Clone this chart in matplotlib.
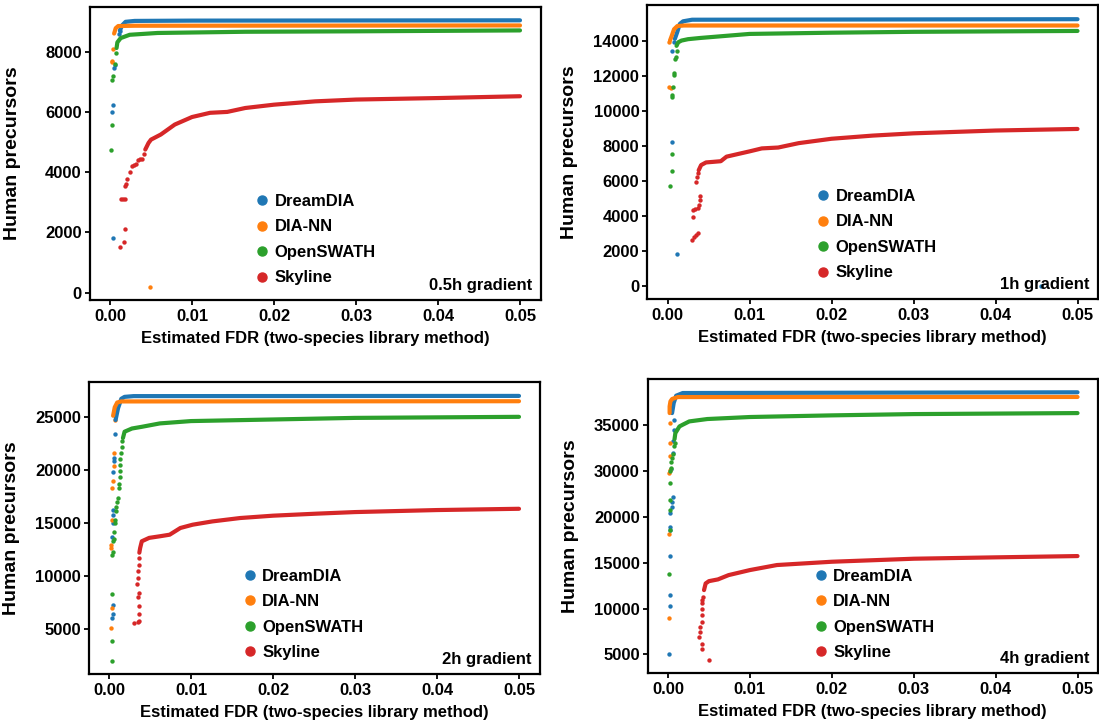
import matplotlib
matplotlib.use('Agg')
import matplotlib.pyplot as plt
from matplotlib.lines import Line2D

plt.rcParams['font.family'] = ['Liberation Sans', 'DejaVu Sans']
plt.rcParams['font.weight'] = 'bold'

methods = ['DreamDIA', 'DIA-NN', 'OpenSWATH', 'Skyline']
colors = ['#1f77b4', '#ff7f0e', '#2ca02c', '#d62728']
fdr_ticks = [0.0, 0.01, 0.02, 0.03, 0.04, 0.05]
fdr_labels = ['0.00', '0.01', '0.02', '0.03', '0.04', '0.05']

# (fdr, human precursors).
# *_pts = isolated points at low FDR, *_line = the dense run of points

# ---- 0.5h gradient ----
g05_dream_pts = [(0.0004, 1820), (0.0003, 6000), (0.0004, 6230), (0.0005, 7450),
                 (0.0006, 7560), (0.0011, 8600), (0.0012, 8680)]
g05_dream_line = [(0.0012, 8700), (0.0015, 8880), (0.0019, 8990), (0.003, 9020),
                  (0.01, 9030), (0.05, 9040)]
g05_diann_pts = [(0.0002, 7650), (0.0003, 7680), (0.0004, 8090), (0.0049, 200)]
g05_diann_line = [(0.0005, 8600), (0.0007, 8780), (0.001, 8850), (0.003, 8860),
                  (0.05, 8870)]
g05_osw_pts = [(0.0001, 4750), (0.0002, 5550), (0.0003, 7050), (0.0004, 7180),
               (0.0006, 7600), (0.0007, 7950)]
g05_osw_line = [(0.0008, 8120), (0.0009, 8310), (0.0013, 8450), (0.0024, 8560),
                (0.0058, 8620), (0.0165, 8660), (0.03, 8675), (0.05, 8705)]
g05_sky_pts = [(0.0012, 1520), (0.0017, 1680), (0.0018, 2120), (0.0013, 3110),
               (0.0016, 3110), (0.0018, 3110), (0.0018, 3550), (0.0019, 3620),
               (0.0021, 3760), (0.0024, 4000), (0.0027, 4200), (0.0029, 4230),
               (0.0032, 4260), (0.0034, 4420), (0.0036, 4430), (0.0039, 4450),
               (0.0041, 4600)]
g05_sky_line = [(0.0043, 4750), (0.0047, 4970), (0.005, 5080), (0.0062, 5250),
                (0.0079, 5580), (0.01, 5830), (0.0122, 5970), (0.0143, 6000),
                (0.0165, 6130), (0.02, 6240), (0.025, 6350), (0.03, 6410),
                (0.04, 6460), (0.05, 6520)]

# ---- 1h gradient ----
g1_dream_pts = [(0.0012, 1800), (0.0006, 8230), (0.0006, 13430), (0.0008, 13900),
                (0.0455, 20)]
g1_dream_line = [(0.0009, 14100), (0.0012, 14500), (0.0015, 14950), (0.0019, 15100),
                 (0.003, 15190), (0.05, 15220)]
g1_diann_pts = [(0.0002, 11330), (0.0004, 11300), (0.0002, 13900)]
g1_diann_line = [(0.0003, 14000), (0.0005, 14250), (0.0008, 14650), (0.0012, 14830),
                 (0.002, 14860), (0.05, 14860)]
g1_osw_pts = [(0.0003, 5680), (0.0005, 6570), (0.0005, 7530), (0.0006, 10800),
              (0.0005, 10880), (0.0007, 11380), (0.0008, 12050), (0.0008, 12150),
              (0.0009, 12950), (0.001, 13050), (0.0011, 13380)]
g1_osw_line = [(0.0011, 13700), (0.0013, 13900), (0.0017, 14000), (0.0025, 14080),
               (0.004, 14150), (0.01, 14380), (0.02, 14450), (0.03, 14500),
               (0.05, 14550)]
g1_sky_pts = [(0.003, 2650), (0.0032, 2800), (0.0035, 2900), (0.0037, 3000),
              (0.0031, 3950), (0.0031, 4340), (0.0034, 4400), (0.0037, 4450),
              (0.0039, 4620), (0.004, 4900), (0.004, 5150), (0.0035, 5950),
              (0.0036, 6200), (0.0037, 6450)]
g1_sky_line = [(0.0038, 6600), (0.0041, 6900), (0.0047, 7050), (0.0055, 7080),
               (0.0065, 7120), (0.0072, 7380), (0.0085, 7520), (0.01, 7680),
               (0.0115, 7850), (0.0135, 7900), (0.016, 8150), (0.02, 8400),
               (0.025, 8580), (0.03, 8710), (0.04, 8870), (0.05, 8960)]

# ---- 2h gradient ----
g2_dream_pts = [(0.0004, 6100), (0.0005, 6400), (0.0005, 7300), (0.0004, 13700),
                (0.0005, 15000), (0.0005, 15800), (0.0005, 16200), (0.0005, 19800),
                (0.0006, 20800), (0.0006, 21100), (0.0007, 23400)]
g2_dream_line = [(0.0008, 24700), (0.0011, 25800), (0.0015, 26700), (0.0019, 26880),
                 (0.003, 26950), (0.05, 26970)]
g2_diann_pts = [(0.0002, 5150), (0.0004, 7000), (0.0002, 12600), (0.0003, 12900),
                (0.0004, 15300), (0.0004, 18300), (0.0005, 19000), (0.0006, 20400),
                (0.0006, 21600), (0.0007, 24700)]
g2_diann_line = [(0.0005, 25100), (0.0007, 25900), (0.001, 26350), (0.0015, 26450),
                 (0.05, 26470)]
g2_osw_pts = [(0.0004, 2000), (0.0004, 3900), (0.0004, 8300), (0.0004, 12000),
              (0.0005, 12300), (0.0005, 13300), (0.0006, 13500), (0.0006, 14200),
              (0.0007, 15000), (0.0007, 15300), (0.0008, 16100), (0.0009, 16500),
              (0.001, 17000), (0.0011, 17400), (0.0012, 18300), (0.0012, 18700),
              (0.0013, 19300), (0.0013, 19900), (0.0014, 20500), (0.0014, 21000),
              (0.0015, 21600), (0.0016, 22200), (0.0016, 22700)]
g2_osw_line = [(0.0017, 23000), (0.0019, 23600), (0.0028, 23900), (0.004, 24060),
               (0.0062, 24380), (0.01, 24600), (0.02, 24750), (0.03, 24900),
               (0.05, 25000)]
g2_sky_pts = [(0.003, 5600), (0.0035, 5650), (0.0036, 5800), (0.0037, 6400),
              (0.0036, 7200), (0.0035, 8000), (0.0036, 8400), (0.0034, 9300),
              (0.0035, 9800), (0.0035, 10500), (0.0036, 11000), (0.0037, 11700)]
g2_sky_line = [(0.0037, 12200), (0.0038, 12650), (0.004, 13280), (0.0049, 13600),
               (0.0062, 13750), (0.0074, 13900), (0.0087, 14530), (0.0102, 14840),
               (0.0126, 15150), (0.016, 15470), (0.02, 15690), (0.0253, 15880),
               (0.03, 16030), (0.04, 16220), (0.05, 16340)]

# ---- 4h gradient ----
g4_dream_pts = [(0.0001, 5070), (0.0003, 10260), (0.0003, 11460), (0.0002, 15730),
                (0.0003, 18580), (0.0003, 18940), (0.0003, 20400), (0.0005, 21130),
                (0.0005, 21680), (0.0006, 22230), (0.0004, 25220), (0.0006, 26970),
                (0.0006, 28250), (0.0007, 29530), (0.0007, 30620)]
g4_dream_line = [(0.0005, 31350), (0.0007, 32450), (0.001, 33250), (0.0018, 33540),
                 (0.05, 33620)]
g4_diann_pts = [(0.0001, 8980), (0.0001, 18100), (0.0001, 24780), (0.0002, 25150),
                (0.0002, 26680), (0.0002, 28070), (0.0003, 30260)]
g4_diann_line = [(0.0002, 31350), (0.0002, 32080), (0.0003, 32630), (0.0005, 32890),
                 (0.0012, 33100), (0.05, 33110)]
g4_osw_pts = [(0.0001, 13720), (0.0002, 18580), (0.0002, 20770), (0.0003, 21860),
              (0.0002, 23690), (0.0003, 24970), (0.0004, 25330), (0.0004, 26000),
              (0.0005, 26430), (0.0006, 26900), (0.0007, 27700), (0.0008, 28070)]
g4_osw_line = [(0.0008, 28500), (0.0009, 29160), (0.0014, 29890), (0.0018, 30080),
               (0.0026, 30440), (0.0048, 30700), (0.01, 30920), (0.02, 31100),
               (0.03, 31240), (0.05, 31350)]
g4_sky_pts = [(0.005, 4420), (0.0041, 5620), (0.0041, 6170), (0.0038, 6900),
              (0.0039, 7400), (0.0039, 7990), (0.0041, 8500), (0.0042, 9270),
              (0.0041, 10000), (0.0041, 10550), (0.0042, 10910), (0.0043, 11300)]
g4_sky_line = [(0.0044, 12010), (0.0046, 12740), (0.005, 12990), (0.0061, 13180),
               (0.0074, 13650), (0.01, 14200), (0.0133, 14750), (0.02, 15110),
               (0.03, 15440), (0.04, 15590), (0.05, 15730)]

# y ticks as printed (the 4h panel skips 25000 in its labels)
g05_yticks = [0, 2000, 4000, 6000, 8000]
g1_yticks = [0, 2000, 4000, 6000, 8000, 10000, 12000, 14000]
g2_yticks = [5000, 10000, 15000, 20000, 25000]
g4_yticks = [5000, 10000, 15000, 20000, 25000, 30000]
g4_ylabels = ['5000', '10000', '15000', '20000', '30000', '35000']

panels = [
    dict(name='0.5h gradient', pts=[g05_dream_pts, g05_diann_pts, g05_osw_pts, g05_sky_pts],
         lines=[g05_dream_line, g05_diann_line, g05_osw_line, g05_sky_line],
         yticks=g05_yticks, ylabels=None, ylim=(-243, 9482),
         rect=[89.5, 7, 540.5, 300], leg=(0.368, 0.206)),
    dict(name='1h gradient', pts=[g1_dream_pts, g1_diann_pts, g1_osw_pts, g1_sky_pts],
         lines=[g1_dream_line, g1_diann_line, g1_osw_line, g1_sky_line],
         yticks=g1_yticks, ylabels=None, ylim=(-740, 16030),
         rect=[647, 5, 1098, 299], leg=(0.376, 0.219)),
    dict(name='2h gradient', pts=[g2_dream_pts, g2_diann_pts, g2_osw_pts, g2_sky_pts],
         lines=[g2_dream_line, g2_diann_line, g2_osw_line, g2_sky_line],
         yticks=g2_yticks, ylabels=None, ylim=(780, 28280),
         rect=[88.5, 382, 539.5, 674], leg=(0.343, 0.204)),
    dict(name='4h gradient', pts=[g4_dream_pts, g4_diann_pts, g4_osw_pts, g4_sky_pts],
         lines=[g4_dream_line, g4_diann_line, g4_osw_line, g4_sky_line],
         yticks=g4_yticks, ylabels=g4_ylabels, ylim=(2956, 35073),
         rect=[647.5, 379, 1098, 673], leg=(0.37, 0.199)),
]

W, H = 1099, 726
fig = plt.figure(figsize=(W / 100, H / 100), dpi=100)

for p in panels:
    l, t, r, b = p['rect']
    ax = fig.add_axes([l / W, 1 - b / H, (r - l) / W, (b - t) / H])

    for pts, line, c in zip(p['pts'], p['lines'], colors):
        ax.plot([q[0] for q in line], [q[1] for q in line], color=c, lw=3.0,
                solid_capstyle='round', solid_joinstyle='round')
        ax.scatter([q[0] for q in pts], [q[1] for q in pts], s=10, color=c,
                   linewidths=0)

    ax.set_xlim(-0.0025, 0.0525)
    ax.set_ylim(*p['ylim'])
    ax.set_xticks(fdr_ticks)
    ax.set_xticklabels(fdr_labels)
    ax.set_yticks(p['yticks'])
    if p['ylabels']:
        ax.set_yticklabels(p['ylabels'])

    for s in ax.spines.values():
        s.set_linewidth(1.6)
    ax.tick_params(direction='out', length=3.5, width=1.3, labelsize=12)
    ax.tick_params(axis='y', pad=2)
    ax.tick_params(axis='x', pad=3)

    ax.set_xlabel('Estimated FDR (two-species library method)', fontsize=12,
                  fontweight='bold')
    ax.set_ylabel('Human precursors', fontsize=14, fontweight='bold')
    ax.xaxis.set_label_coords(0.5, -0.105)
    ax.yaxis.set_label_coords(-0.152, 0.5)

    handles = [Line2D([], [], marker='o', ls='', color=c, markersize=6.5) for c in colors]
    ax.legend(handles, methods, loc='center left', bbox_to_anchor=p['leg'],
              frameon=False, borderpad=0, borderaxespad=0, handlelength=0.8,
              handletextpad=0.35, labelspacing=0.63,
              prop={'weight': 'bold', 'size': 12})

    ax.text(0.982, 0.048, p['name'], transform=ax.transAxes, ha='right',
            va='center', fontsize=12, fontweight='bold')

fig.savefig('out.png', dpi=100)
